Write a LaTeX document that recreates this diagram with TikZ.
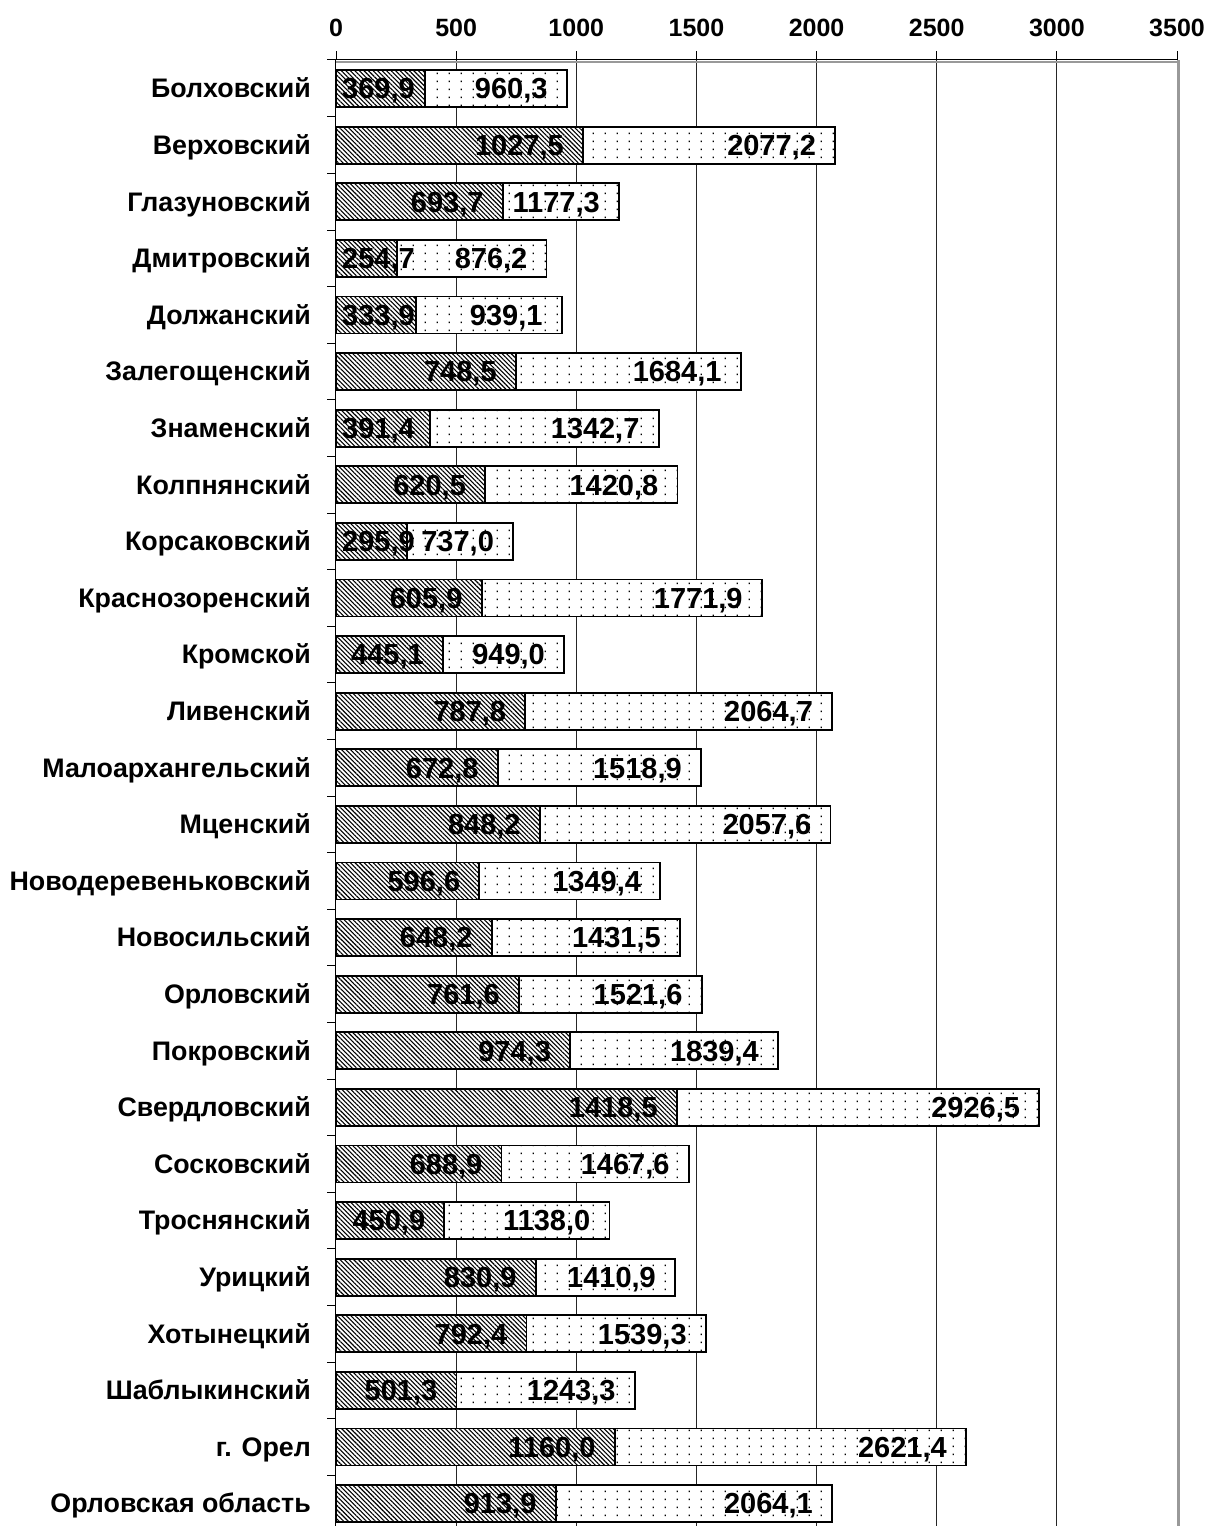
\documentclass[tikz,border=0pt]{standalone}
\usepackage{fontspec}
\setmainfont{Liberation Sans}
\usetikzlibrary{patterns,patterns.meta}
\pgfdeclarepatternformonly{sparsedots}{\pgfqpoint{0pt}{0pt}}{\pgfqpoint{12pt}{7.5pt}}{\pgfqpoint{12pt}{7.5pt}}{%
  \pgfpathrectangle{\pgfqpoint{5pt}{3pt}}{\pgfqpoint{1.4pt}{1.6pt}}\pgfusepath{fill}}
\begin{document}
\begin{tikzpicture}[x=1pt,y=-1pt,
  cat/.style={anchor=base east,font=\fontsize{26.8}{26.8}\selectfont\bfseries,inner sep=0pt},
  val/.style={anchor=base east,font=\fontsize{29}{29}\selectfont\bfseries,inner sep=0pt},
  tick/.style={anchor=base,font=\fontsize{25}{25}\selectfont\bfseries,inner sep=0pt},
  barB/.style={draw=black,line width=1.8pt,preaction={fill=white},pattern=sparsedots},
  barA/.style={draw=black,line width=1.8pt,preaction={fill=white},pattern={Lines[angle=-45,distance=3.2pt,line width=1.1pt]}},
  grid/.style={draw=black!85,line width=0.9pt},
  frame/.style={draw=black!40,line width=3pt},
  axis/.style={draw=black,line width=1.3pt}]
\useasboundingbox (0,0) rectangle (1209,1526);
\pgfkeys{/pgf/number format/.cd,fixed,fixed zerofill,precision=1,use comma,1000 sep={},assume math mode=true}
% grid lines and frame
\foreach \v in {500,1000,...,3000}{
  \draw[grid] ({336+\v*0.2403},60) -- ({336+\v*0.2403},1526);
}
\draw[frame] (1178.5,60) -- (1178.5,1526);
\draw[draw=black!40,line width=2pt] (336,61.5) -- (1177,61.5);
% bars
\foreach \name/\a/\b [count=\i from 0] in {
  Болховский/369.9/960.3,
  Верховский/1027.5/2077.2,
  Глазуновский/693.7/1177.3,
  Дмитровский/254.7/876.2,
  Должанский/333.9/939.1,
  Залегощенский/748.5/1684.1,
  Знаменский/391.4/1342.7,
  Колпнянский/620.5/1420.8,
  Корсаковский/295.9/737.0,
  Краснозоренский/605.9/1771.9,
  Кромской/445.1/949.0,
  Ливенский/787.8/2064.7,
  Малоархангельский/672.8/1518.9,
  Мценский/848.2/2057.6,
  Новодеревеньковский/596.6/1349.4,
  Новосильский/648.2/1431.5,
  Орловский/761.6/1521.6,
  Покровский/974.3/1839.4,
  Свердловский/1418.5/2926.5,
  Сосковский/688.9/1467.6,
  Троснянский/450.9/1138.0,
  Урицкий/830.9/1410.9,
  Хотынецкий/792.4/1539.3,
  Шаблыкинский/501.3/1243.3,
  г. Орел/1160.0/2621.4,
  Орловская область/913.9/2064.1}{
  \pgfmathsetmacro\yc{88.5+\i*56.6}
  \pgfmathsetmacro\xa{336+\a*0.2403}
  \pgfmathsetmacro\xb{336+\b*0.2403}
  \pgfmathsetmacro\ea{max(\xa-19,415)}
  \pgfmathsetmacro\eb{\xb-19}
  \node[cat] (c\i) at (311,\yc+9.4) {\name};
  \draw[barB] (336,\yc-18.5) rectangle (\xb,\yc+18.5);
  \draw[barA] (336,\yc-18.5) rectangle (\xa,\yc+18.5);
  \node[val] (a\i) at (\ea,\yc+10.4) {\pgfmathprintnumber{\a}};
  \node[val] (b\i) at (\eb,\yc+10.4) {\pgfmathprintnumber{\b}};
}
% axes
\draw[axis] (327,59.5) -- (1177.5,59.5);
\draw[axis] (335.5,59.5) -- (335.5,1526);
\foreach \v in {0,500,...,3500}{
  \draw[axis,line width=1pt] ({336+\v*0.2403},51) -- ({336+\v*0.2403},59.5);
  \node[tick] (t\v) at ({336+\v*0.2403},36) {\v};
}
\foreach \k in {1,...,25}{
  \draw[axis,line width=1pt] (327,{60.2+\k*56.6}) -- (335.5,{60.2+\k*56.6});
}
\end{tikzpicture}
\end{document}
